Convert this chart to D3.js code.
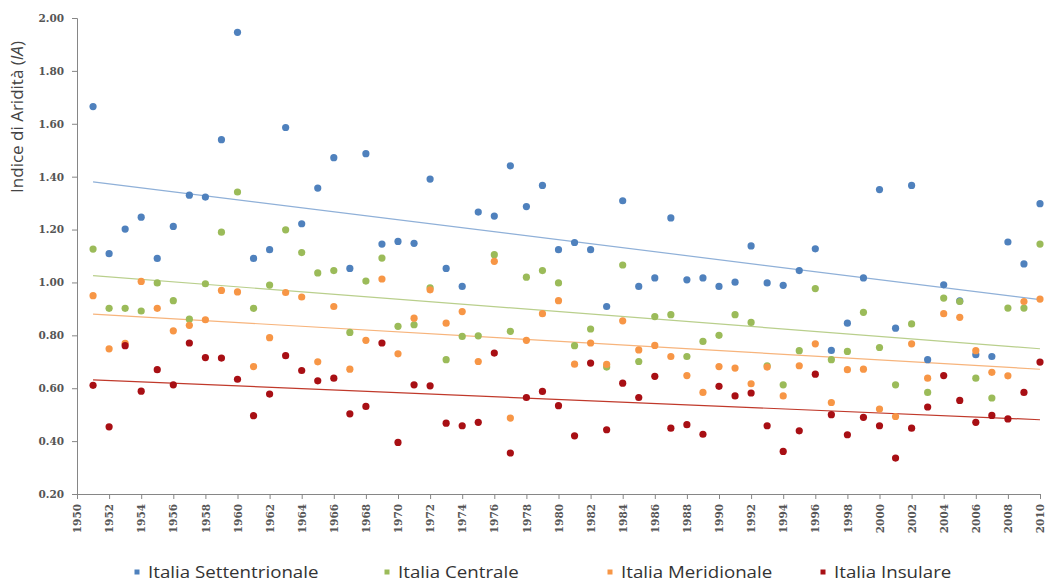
<!DOCTYPE html>
<html lang="it">
<head>
  <meta charset="UTF-8">
  <title>Indice di Aridità</title>
  <script src="https://d3js.org/d3.v7.min.js"></script>
  <style>
    body {
      margin: 0;
      background: #fff;
    }

    svg {
      display: block;
    }

    .axis path,
    .axis line {
      stroke: #868686;
    }

    .axis text {
      font-family: "DejaVu Serif", serif;
      font-weight: bold;
      font-size: 10.5px;
      fill: #555;
    }

    .legend text {
      font-family: "Open Sans", sans-serif;
      font-size: 16px;
      fill: #333;
    }
  </style>
</head>
<body>
  <svg id="chart"></svg>
  <script>
    const years = d3.range(1951, 2011);

    const settentrionale = [
      1.665, 1.109, 1.202, 1.247, 1.091, 1.212, 1.330, 1.323, 1.540, 1.946,
      1.091, 1.124, 1.586, 1.222, 1.357, 1.472, 1.053, 1.487, 1.145, 1.155,
      1.148, 1.391, 1.053, 0.985, 1.266, 1.251, 1.441, 1.287, 1.367, 1.124,
      1.151, 1.124, 0.909, 1.309, 0.985, 1.017, 1.244, 1.010, 1.017, 0.985,
      1.001, 1.138, 0.998, 0.989, 1.045, 1.127, 0.743, 0.846, 1.017, 1.351,
      0.827, 1.367, 0.708, 0.991, 0.930, 0.727, 0.720, 1.153, 1.070, 1.298
    ];

    const centrale = [
      1.126, 0.902, 0.902, 0.892, 0.998, 0.931, 0.861, 0.995, 1.190, 1.342,
      0.902, 0.990, 1.199, 1.113, 1.036, 1.045, 0.811, 1.005, 1.092, 0.834,
      0.840, 0.980, 0.708, 0.796, 0.798, 1.105, 0.815, 1.020, 1.045, 0.998,
      0.761, 0.824, 0.680, 1.066, 0.701, 0.871, 0.878, 0.720, 0.777, 0.800,
      0.878, 0.849, 0.685, 0.613, 0.742, 0.977, 0.708, 0.739, 0.887, 0.754,
      0.613, 0.843, 0.584, 0.941, 0.928, 0.638, 0.563, 0.903, 0.903, 1.145
    ];

    const meridionale = [
      0.950, 0.749, 0.770, 1.004, 0.902, 0.817, 0.838, 0.859, 0.970, 0.964,
      0.682, 0.791, 0.962, 0.945, 0.700, 0.909, 0.672, 0.781, 1.013, 0.730,
      0.865, 0.972, 0.846, 0.890, 0.701, 1.080, 0.487, 0.781, 0.882, 0.931,
      0.691, 0.771, 0.690, 0.855, 0.745, 0.762, 0.720, 0.648, 0.584, 0.682,
      0.676, 0.617, 0.680, 0.571, 0.685, 0.768, 0.546, 0.670, 0.672, 0.521,
      0.493, 0.768, 0.638, 0.882, 0.868, 0.742, 0.660, 0.647, 0.928, 0.937
    ];

    const insulare = [
      0.611, 0.454, 0.761, 0.589, 0.670, 0.613, 0.771, 0.716, 0.714, 0.634,
      0.496, 0.578, 0.723, 0.667, 0.628, 0.638, 0.503, 0.531, 0.771, 0.395,
      0.613, 0.609, 0.468, 0.458, 0.471, 0.733, 0.355, 0.565, 0.588, 0.534,
      0.420, 0.695, 0.443, 0.619, 0.565, 0.645, 0.449, 0.462, 0.426, 0.607,
      0.571, 0.582, 0.458, 0.361, 0.439, 0.653, 0.500, 0.424, 0.490, 0.458,
      0.336, 0.449, 0.529, 0.648, 0.554, 0.471, 0.497, 0.484, 0.584, 0.699
    ];

    const seriesNames = ["Italia Settentrionale", "Italia Centrale", "Italia Meridionale", "Italia Insulare"];
    const seriesValues = [settentrionale, centrale, meridionale, insulare];
    const dotColors = ["#4f81bd", "#9bbb59", "#f79646", "#a80f14"];
    const lineColors = ["#8fb0d8", "#b9cf8c", "#f7b47c", "#c0392b"];

    const xTicks = d3.range(1950, 2011, 2);
    const yTicks = d3.range(0.2, 2.001, 0.2);

    const width = 1046;
    const height = 582;
    const margin = { top: 18, right: 6, bottom: 88, left: 77 };

    const svg = d3.select("#chart")
      .attr("width", width)
      .attr("height", height);

    const x = d3.scaleLinear()
      .domain([1950, 2010])
      .range([margin.left, width - margin.right]);

    const y = d3.scaleLinear()
      .domain([0.2, 2.0])
      .range([height - margin.bottom, margin.top]);

    // y axis
    svg.append("g")
      .attr("class", "axis")
      .attr("transform", `translate(${margin.left},0)`)
      .call(d3.axisLeft(y).tickValues(yTicks).tickFormat(d3.format(".2f")).tickSizeOuter(0).tickSize(5).tickPadding(8));

    // x axis, labels turned vertical
    svg.append("g")
      .attr("class", "axis")
      .attr("transform", `translate(0,${height - margin.bottom})`)
      .call(d3.axisBottom(x).tickValues(xTicks).tickFormat(d3.format("d")).tickSizeOuter(0).tickSize(5))
      .selectAll("text")
      .attr("transform", "rotate(-90)")
      .attr("text-anchor", "end")
      .attr("x", -10)
      .attr("y", 0)
      .attr("dy", "0.35em");

    // y axis title
    const title = svg.append("text")
      .attr("transform", `translate(23,117) rotate(-90)`)
      .attr("text-anchor", "middle")
      .style("font-family", "'Open Sans', sans-serif")
      .style("font-size", "17px")
      .style("fill", "#444");
    title.append("tspan").text("Indice di Aridità (");
    title.append("tspan").style("font-style", "italic").text("IA");
    title.append("tspan").text(")");

    // least squares trend for each series
    function trend(values) {
      const mx = d3.mean(years);
      const my = d3.mean(values);
      let num = 0, den = 0;
      years.forEach((yr, i) => {
        num += (yr - mx) * (values[i] - my);
        den += (yr - mx) * (yr - mx);
      });
      const b = num / den;
      const a = my - b * mx;
      return [years[0], years[years.length - 1]].map(yr => [yr, a + b * yr]);
    }

    const line = d3.line()
      .x(d => x(d[0]))
      .y(d => y(d[1]));

    seriesValues.forEach((vals, s) => {
      svg.append("path")
        .datum(trend(vals))
        .attr("d", line)
        .attr("fill", "none")
        .attr("stroke", lineColors[s])
        .attr("stroke-width", 1.2);
    });

    seriesValues.forEach((vals, s) => {
      svg.append("g")
        .selectAll("circle")
        .data(vals)
        .join("circle")
        .attr("cx", (d, i) => x(years[i]))
        .attr("cy", d => y(d))
        .attr("r", 3.6)
        .attr("fill", dotColors[s]);
    });

    // legend (text a bit wider, as in the original)
    const legendX = [137, 387, 610, 823];
    const legend = svg.append("g").attr("class", "legend");
    seriesNames.forEach((name, s) => {
      const g = legend.append("g").attr("transform", `translate(${legendX[s]},572)`);
      g.append("rect")
        .attr("x", -2.5)
        .attr("y", -2.5)
        .attr("width", 5)
        .attr("height", 5)
        .attr("fill", dotColors[s]);
      g.append("text")
        .attr("transform", "translate(11,0) scale(1.17,1)")
        .attr("dy", "0.35em")
        .text(name);
    });
  </script>
</body>
</html>
